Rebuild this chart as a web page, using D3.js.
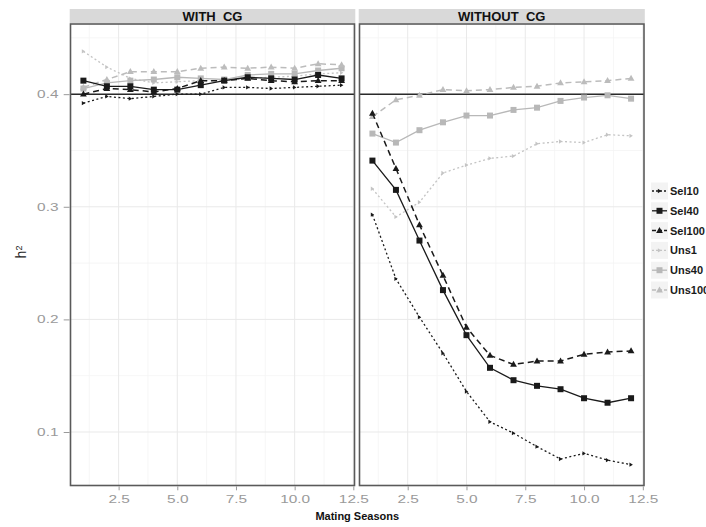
<!DOCTYPE html>
<html lang="en">
<head>
  <meta charset="UTF-8" />
  <title>h2 by mating seasons</title>
  <style>
    body {
      margin: 0;
      background: #fff;
      font-family: "Liberation Sans", Arial, sans-serif;
    }
    svg { display: block; }
    .tick text { fill: #9a9a9a; font-size: 11px; }
    .tick line { stroke: #9a9a9a; }
    .strip-label { font-weight: bold; white-space: pre; }
    .legend text { font-size: 11px; font-weight: bold; fill: #1a1a1a; }
  </style>
</head>
<body>
  <div id="chart"></div>

  <script src="https://cdnjs.cloudflare.com/ajax/libs/d3/7.8.5/d3.min.js"></script>
  <script>
    // Data
    const seasons = [1, 2, 3, 4, 5, 6, 7, 8, 9, 10, 11, 12];
    const panels = ["WITH  CG", "WITHOUT  CG"];
    const seriesNames = ["Sel10", "Sel40", "Sel100", "Uns1", "Uns40", "Uns100"];

    const withSel10  = [0.392, 0.398, 0.396, 0.398, 0.400, 0.400, 0.406, 0.406, 0.405, 0.406, 0.407, 0.408];
    const withSel40  = [0.412, 0.407, 0.407, 0.404, 0.404, 0.408, 0.412, 0.415, 0.414, 0.413, 0.417, 0.414];
    const withSel100 = [0.400, 0.405, 0.404, 0.402, 0.405, 0.412, 0.412, 0.414, 0.412, 0.411, 0.412, 0.412];
    const withUns1   = [0.438, 0.424, 0.414, 0.410, 0.411, 0.412, 0.412, 0.414, 0.415, 0.416, 0.418, 0.419];
    const withUns40  = [0.405, 0.410, 0.412, 0.413, 0.415, 0.414, 0.413, 0.417, 0.418, 0.418, 0.421, 0.423];
    const withUns100 = [0.406, 0.413, 0.420, 0.420, 0.420, 0.423, 0.424, 0.423, 0.424, 0.423, 0.427, 0.426];

    const woSel10  = [0.293, 0.236, 0.202, 0.170, 0.136, 0.109, 0.099, 0.087, 0.076, 0.081, 0.075, 0.071];
    const woSel40  = [0.341, 0.315, 0.270, 0.226, 0.186, 0.157, 0.146, 0.141, 0.138, 0.130, 0.126, 0.130];
    const woSel100 = [0.383, 0.334, 0.284, 0.239, 0.193, 0.168, 0.160, 0.163, 0.163, 0.169, 0.171, 0.172];
    const woUns1   = [0.316, 0.291, 0.304, 0.330, 0.337, 0.343, 0.345, 0.356, 0.358, 0.357, 0.364, 0.363];
    const woUns40  = [0.365, 0.357, 0.368, 0.375, 0.381, 0.381, 0.386, 0.388, 0.394, 0.397, 0.399, 0.396];
    const woUns100 = [0.380, 0.395, 0.399, 0.404, 0.403, 0.404, 0.406, 0.407, 0.410, 0.411, 0.412, 0.414];

    const xTicks = [2.5, 5.0, 7.5, 10.0, 12.5];
    const yTicks = [0.1, 0.2, 0.3, 0.4];
    const refLine = 0.4;

    const panelValues = [
      [withSel10, withSel40, withSel100, withUns1, withUns40, withUns100],
      [woSel10, woSel40, woSel100, woUns1, woUns40, woUns100]
    ];

    // series styling
    const style = {
      Sel10:  { color: "#1a1a1a", dash: "2,2.5", shape: "arrow", width: 1.3 },
      Sel40:  { color: "#1a1a1a", dash: null,    shape: "square", width: 1.3 },
      Sel100: { color: "#1a1a1a", dash: "6,4",   shape: "triangle", width: 1.5 },
      Uns1:   { color: "#c4c4c4", dash: "2,2.5", shape: "arrow", width: 1.3 },
      Uns40:  { color: "#b8b8b8", dash: null,    shape: "square", width: 1.3 },
      Uns100: { color: "#bcbcbc", dash: "6,4",   shape: "triangle", width: 1.5 }
    };

    const W = 706, H = 527;
    const panelTop = 24, panelBottom = 485.5;
    const panelX = [[70.5, 354.5], [359.5, 644]];

    const svg = d3.select("#chart").append("svg")
      .attr("width", W)
      .attr("height", H);

    const y = d3.scaleLinear().domain([0.0525, 0.4623]).range([panelBottom, panelTop]);

    function drawMarker(g, shape, cx, cy, color) {
      if (shape === "square") {
        g.append("rect")
          .attr("x", cx - 3).attr("y", cy - 3)
          .attr("width", 6).attr("height", 6)
          .attr("fill", color);
      } else if (shape === "triangle") {
        g.append("path")
          .attr("d", `M${cx},${cy - 3.6}L${cx + 3.4},${cy + 2.4}L${cx - 3.4},${cy + 2.4}Z`)
          .attr("fill", color);
      } else {
        g.append("path")
          .attr("d", `M${cx - 1.6},${cy - 2.2}L${cx + 1.8},${cy}L${cx - 1.6},${cy + 2.2}Z`)
          .attr("fill", color);
      }
    }

    panels.forEach((name, p) => {
      const [x0, x1] = panelX[p];
      const x = d3.scaleLinear().domain([0.45, 12.55]).range([x0, x1]);
      const g = svg.append("g");

      // background + grid
      g.append("rect")
        .attr("x", x0).attr("y", panelTop)
        .attr("width", x1 - x0).attr("height", panelBottom - panelTop)
        .attr("fill", "#fff");

      const minorX = [1.25, 3.75, 6.25, 8.75, 11.25];
      const minorY = [0.15, 0.25, 0.35, 0.45];
      g.selectAll(".gx-minor").data(minorX).enter().append("line")
        .attr("x1", d => x(d)).attr("x2", d => x(d))
        .attr("y1", panelTop).attr("y2", panelBottom)
        .attr("stroke", "#f4f4f4").attr("stroke-width", 0.8);
      g.selectAll(".gy-minor").data(minorY).enter().append("line")
        .attr("x1", x0).attr("x2", x1)
        .attr("y1", d => y(d)).attr("y2", d => y(d))
        .attr("stroke", "#f4f4f4").attr("stroke-width", 0.8);
      g.selectAll(".gx").data(xTicks).enter().append("line")
        .attr("x1", d => x(d)).attr("x2", d => x(d))
        .attr("y1", panelTop).attr("y2", panelBottom)
        .attr("stroke", "#e9e9e9").attr("stroke-width", 1);
      g.selectAll(".gy").data(yTicks).enter().append("line")
        .attr("x1", x0).attr("x2", x1)
        .attr("y1", d => y(d)).attr("y2", d => y(d))
        .attr("stroke", "#e9e9e9").attr("stroke-width", 1);

      // reference line
      g.append("line")
        .attr("x1", x0).attr("x2", x1)
        .attr("y1", y(refLine)).attr("y2", y(refLine))
        .attr("stroke", "#2a2a2a").attr("stroke-width", 1.5);

      // series lines, Uns first so Sel sits on top
      const order = [3, 4, 5, 0, 1, 2];
      order.forEach(i => {
        const s = style[seriesNames[i]];
        const vals = panelValues[p][i];
        const line = d3.line().x((d, j) => x(seasons[j])).y(d => y(d));
        g.append("path")
          .datum(vals)
          .attr("d", line)
          .attr("fill", "none")
          .attr("stroke", s.color)
          .attr("stroke-width", s.width)
          .attr("stroke-dasharray", s.dash);
        vals.forEach((v, j) => drawMarker(g, s.shape, x(seasons[j]), y(v), s.color));
      });

      // panel border
      g.append("rect")
        .attr("x", x0).attr("y", panelTop)
        .attr("width", x1 - x0).attr("height", panelBottom - panelTop)
        .attr("fill", "none")
        .attr("stroke", "#5a5a5a").attr("stroke-width", 1.6);

      // strip
      g.append("rect")
        .attr("x", x0 - 0.8).attr("y", 9)
        .attr("width", x1 - x0 + 1.6).attr("height", 14)
        .attr("fill", "#d9d9d9");
      g.append("text")
        .attr("class", "strip-label")
        .attr("x", (x0 + x1) / 2).attr("y", 20.5)
        .attr("text-anchor", "middle")
        .style("font-size", "13px")
        .attr("fill", "#111")
        .text(name);

      // x axis
      const xa = g.append("g")
        .attr("transform", `translate(0,${panelBottom + 0.8})`)
        .call(d3.axisBottom(x).tickValues(xTicks).tickFormat(d3.format(".1f")).tickSize(4).tickPadding(3));
      xa.select(".domain").remove();
      xa.selectAll("text").attr("transform", "scale(1.4,1)").attr("dy", "0.9em");

      // y axis on first panel only
      if (p === 0) {
        const ya = g.append("g")
          .attr("transform", `translate(${x0 - 0.8},0)`)
          .call(d3.axisLeft(y).tickValues(yTicks).tickFormat(d3.format(".1f")).tickSize(6).tickPadding(2));
        ya.select(".domain").remove();
        ya.selectAll("text").attr("transform", "scale(1.4,1)");
      }
    });

    // axis titles
    svg.append("text")
      .attr("x", (panelX[0][0] + panelX[1][1]) / 2)
      .attr("y", 520)
      .attr("text-anchor", "middle")
      .style("font-size", "11px")
      .style("font-weight", "bold")
      .attr("fill", "#111")
      .text("Mating Seasons");

    const yl = svg.append("text")
      .attr("transform", "translate(26,252) rotate(-90)")
      .attr("text-anchor", "middle")
      .style("font-size", "14px")
      .attr("fill", "#222");
    yl.append("tspan").text("h");
    yl.append("tspan").attr("dy", "-0.5em").style("font-size", "9px").text("2");

    // legend
    const legend = svg.append("g").attr("class", "legend");
    const legendTop = 191, legendStep = 19.8;
    seriesNames.forEach((n, i) => {
      const s = style[n];
      const cy = legendTop + i * legendStep;
      const lg = legend.append("g");
      lg.append("rect")
        .attr("x", 651).attr("y", cy - 8.5)
        .attr("width", 17).attr("height", 17)
        .attr("fill", "#f3f3f3");
      lg.append("line")
        .attr("x1", 652).attr("x2", 667)
        .attr("y1", cy).attr("y2", cy)
        .attr("stroke", s.color)
        .attr("stroke-width", s.width)
        .attr("stroke-dasharray", s.dash ? (s.dash === "6,4" ? "4,2" : "2,2") : null);
      drawMarker(lg, s.shape, 659.5, cy, s.color);
      lg.append("text")
        .attr("x", 670).attr("y", cy + 4)
        .text(n);
    });
  </script>
</body>
</html>
